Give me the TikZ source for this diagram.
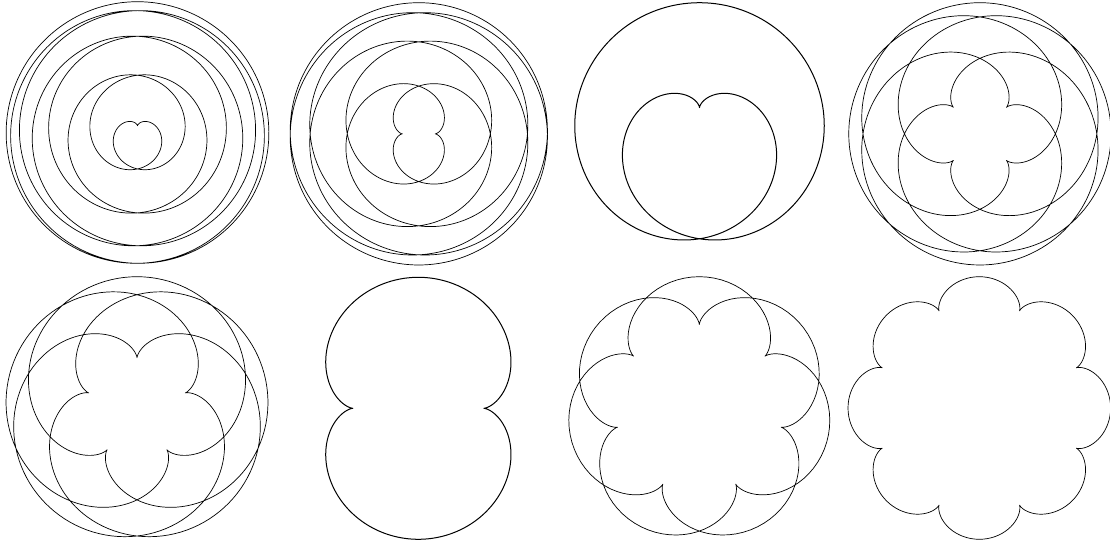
\documentclass[tikz,border=0pt]{standalone}
\usetikzlibrary{calc}
\tikzset{curve/.style={draw=black,line join=round}}
% #1 = small radius B (big + small = 9), #2 = end angle, #3 = samples,
% #4,#5 = left/right x, #6,#7 = top/bottom y (pixels, y downward), #8 = line width
\newcommand\epipanel[8]{%
  \begin{scope}[local bounding box=bb]
    \path plot[domain=0:#2,samples=#3,variable=\t]
      ({9*sin(\t)+#1*sin(9/#1*\t)},{9*cos(\t)+#1*cos(9/#1*\t)});
  \end{scope}
  \pgfpointanchor{bb}{south west}\pgfgetlastxy{\eax}{\eay}%
  \pgfpointanchor{bb}{north east}\pgfgetlastxy{\ebx}{\eby}%
  \pgfmathsetmacro\esc{(#7-#6)/(\eby-\eay)}%
  \pgfmathsetmacro\ecx{(\eax+\ebx)/2}%
  \pgfmathsetmacro\ecy{(\eay+\eby)/2}%
  \pgfmathsetmacro\etx{(#4+#5)/2}%
  \pgfmathsetmacro\ety{543-(#6+#7)/2}%
  \draw[curve,line width=#8,shift={(\etx,\ety)},scale=\esc,shift={(-\ecx,-\ecy)}]
    plot[domain=0:#2,samples=#3,variable=\t]
      ({9*sin(\t)+#1*sin(9/#1*\t)},{9*cos(\t)+#1*cos(9/#1*\t)});
}
\begin{document}
\begin{tikzpicture}[x=1pt,y=1pt]
\fill[white] (0,0) rectangle (1110,543);
% top row
\epipanel{8}{2880}{1441}{6.7}{268.3}{1.7}{263.3}{0.7pt}
\epipanel{7}{2520}{1261}{289.3}{548.3}{2.7}{265}{0.7pt}
\epipanel{6}{720}{361}{574}{825}{2.7}{240}{1pt}
\epipanel{5}{1800}{901}{849.3}{1110.5}{2.7}{265}{0.7pt}
% bottom row
\epipanel{4}{1440}{721}{6.7}{267.3}{276.7}{536.7}{0.7pt}
\epipanel{3}{360}{361}{325}{511.7}{277.3}{539.3}{1pt}
\epipanel{2}{720}{361}{569.3}{829.3}{276.7}{535}{0.7pt}
\epipanel{1}{360}{361}{848.3}{1110.3}{276.7}{539.3}{0.7pt}
\pgfresetboundingbox
\useasboundingbox (0,0) rectangle (1110,543);
\end{tikzpicture}
\end{document}
